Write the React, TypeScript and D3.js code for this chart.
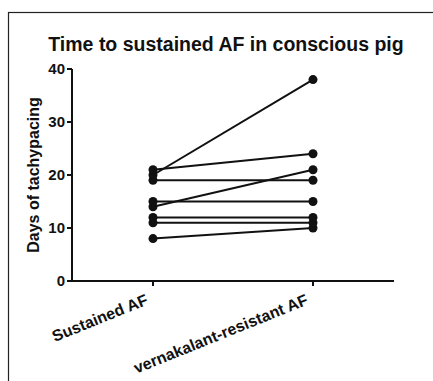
import React from "react";
import * as d3 from "d3";

const groups = ["Sustained AF", "vernakalant-resistant AF"];
const sustained = [8, 11, 12, 14, 15, 19, 20, 21];
const resistant = [10, 11, 12, 21, 15, 19, 38, 24];
const yTicks = [0, 10, 20, 30, 40];

const width = 433;
const height = 381;
const margin = { top: 69, right: 39, bottom: 100, left: 72 };

export default function App() {
  const x = d3
    .scalePoint()
    .domain(groups)
    .range([153, 313]);

  const y = d3
    .scaleLinear()
    .domain([0, 40])
    .range([height - margin.bottom, margin.top]);

  const pairs = sustained.map((v, i) => [
    [groups[0], v],
    [groups[1], resistant[i]],
  ]);

  const line = d3
    .line<any>()
    .x((d) => x(d[0]) as number)
    .y((d) => y(d[1]));

  const font = "'Liberation Sans', Arial, sans-serif";

  return (
    <svg
      width={width}
      height={height}
      style={{ position: "absolute", left: 0, top: 0, background: "#fff" }}
      fontFamily={font}
    >
      <rect x={8.5} y={12.5} width={440} height={400} fill="none" stroke="#222" strokeWidth={1.2} />
      <text x={226} y={51} textAnchor="middle" fontSize={19.5} fontWeight="bold" fill="#111">
        Time to sustained AF in conscious pig
      </text>

      {/* y axis */}
      <line x1={margin.left} x2={margin.left} y1={y(40)} y2={y(0)} stroke="#111" strokeWidth={2} />
      {yTicks.map((t) => (
        <g key={t}>
          <line x1={margin.left - 5} x2={margin.left} y1={y(t)} y2={y(t)} stroke="#111" strokeWidth={2} />
          <text x={margin.left - 7} y={y(t)} dy="0.36em" textAnchor="end" fontSize={15} fontWeight="bold" fill="#111">
            {t}
          </text>
        </g>
      ))}
      <text
        transform={`translate(39,${y(20)}) rotate(-90)`}
        textAnchor="middle"
        fontSize={16}
        fontWeight="bold"
        fill="#111"
      >
        Days of tachypacing
      </text>

      {/* x axis */}
      <line x1={margin.left} x2={394} y1={y(0)} y2={y(0)} stroke="#111" strokeWidth={2} />
      {groups.map((g) => (
        <g key={g}>
          <line x1={x(g)} x2={x(g)} y1={y(0)} y2={y(0) + 5} stroke="#111" strokeWidth={2} />
          <text
            transform={`translate(${(x(g) as number) - 4},${y(0) + 23}) rotate(-22)`}
            textAnchor="end"
            fontSize={16}
            fontWeight="bold"
            fill="#111"
          >
            {g}
          </text>
        </g>
      ))}

      {pairs.map((p, i) => (
        <g key={i}>
          <path d={line(p) as string} fill="none" stroke="#111" strokeWidth={2} />
          {p.map((d, j) => (
            <circle key={j} cx={x(d[0] as string)} cy={y(d[1] as number)} r={4.5} fill="#111" />
          ))}
        </g>
      ))}
    </svg>
  );
}
